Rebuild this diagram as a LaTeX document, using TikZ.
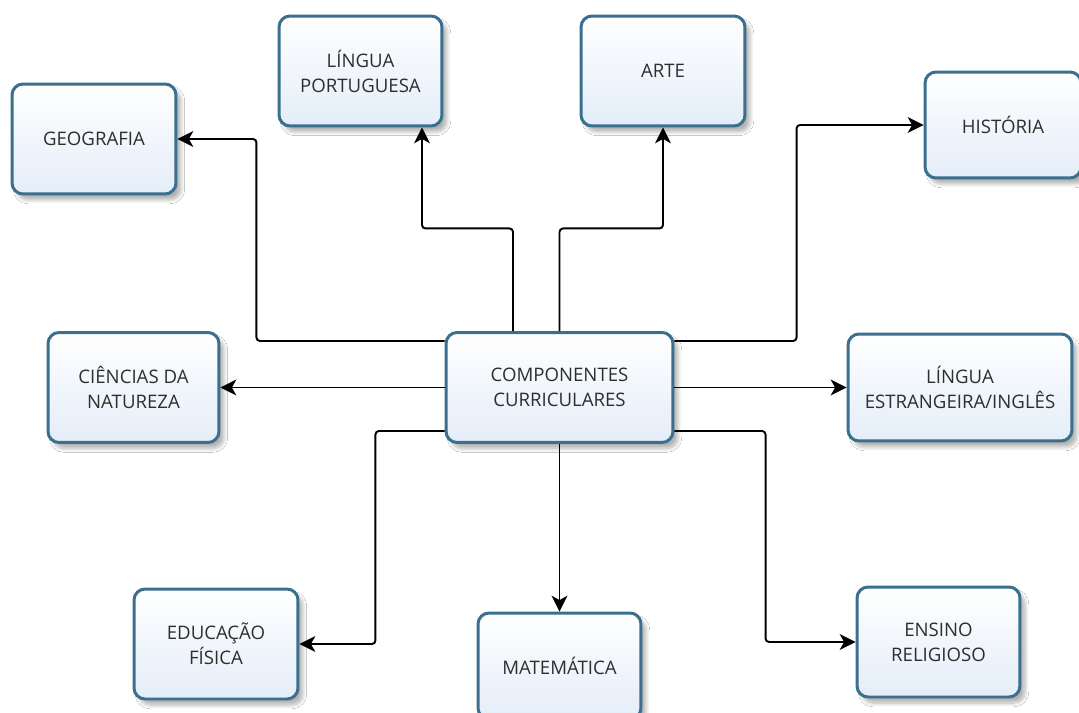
\documentclass[tikz,border=0pt]{standalone}
\usepackage{fontspec}
\setmainfont{Open Sans}
\usetikzlibrary{arrows.meta,shadows.blur}

\definecolor{boxline}{HTML}{3A6F8E}
\definecolor{boxfill}{HTML}{E4EDF8}
\definecolor{boxtext}{HTML}{2E2E2E}

\tikzset{
  comp/.style={draw=boxline, line width=1.7pt, rounded corners=0.22cm,
    top color=white, bottom color=boxfill,
    minimum width=3.28cm, minimum height=2.2cm, align=center,
    text=boxtext, font=\fontsize{10.6}{14.2}\selectfont,
    blur shadow={shadow xshift=0.1cm, shadow yshift=-0.12cm,
      shadow opacity=30, shadow blur steps=8}},
  link/.style={line width=1.1pt, rounded corners=2pt,
    -{Stealth[length=9pt,width=9pt,inset=2.5pt]}}
}

\begin{document}
\begin{tikzpicture}[x=0.02cm, y=-0.02cm]
  \useasboundingbox[fill=white] (0,0) rectangle (1079,713);

  % centre box
  \node[comp, minimum width=4.54cm] (cc) at (559.5,387.5) {COMPONENTES\\CURRICULARES};

  % subjects
  \node[comp] (geo) at (94,139) {GEOGRAFIA};
  \node[comp, minimum width=3.26cm] (lp) at (360.5,71) {LÍNGUA\\PORTUGUESA};
  \node[comp] (arte) at (663,71) {ARTE};
  \node[comp, minimum width=3.12cm, minimum height=2.12cm] (hist) at (1003,125) {HISTÓRIA};
  \node[comp, minimum width=3.42cm] (cn) at (133.5,387.5) {CIÊNCIAS DA\\NATUREZA};
  \node[comp, minimum width=4.48cm, minimum height=2.14cm] (le) at (960,387.5) {LÍNGUA\\ESTRANGEIRA/INGLÊS};
  \node[comp] (ef) at (216,644) {EDUCAÇÃO\\FÍSICA};
  \node[comp, minimum width=3.26cm, minimum height=2.12cm] (mat) at (559.5,666) {MATEMÁTICA};
  \node[comp, minimum width=3.26cm] (er) at (938.5,642) {ENSINO\\RELIGIOSO};

  % connectors
  \draw[link] ([yshift=-0.2cm]cc.north west) -| ([xshift=1.58cm]geo.east) -- (geo.east);
  \draw[link] ([xshift=-0.93cm]cc.north) |- ([xshift=1.23cm,yshift=-2.02cm]lp.south) -- ([xshift=1.23cm]lp.south);
  \draw[link] (cc.north) |- ([yshift=-2.02cm]arte.south) -- (arte.south);
  \draw[link] ([yshift=-0.2cm]cc.north east) -| ([xshift=-2.54cm]hist.west) -- (hist.west);
  \draw[link] (cc.west) -- (cn.east);
  \draw[link] (cc.east) -- (le.west);
  \draw[link] ([yshift=0.26cm]cc.south west) -| ([xshift=1.52cm]ef.east) -- (ef.east);
  \draw[link] (cc.south) -- (mat.north);
  \draw[link] ([yshift=0.26cm]cc.south east) -| ([xshift=-1.8cm]er.west) -- (er.west);
\end{tikzpicture}
\end{document}
